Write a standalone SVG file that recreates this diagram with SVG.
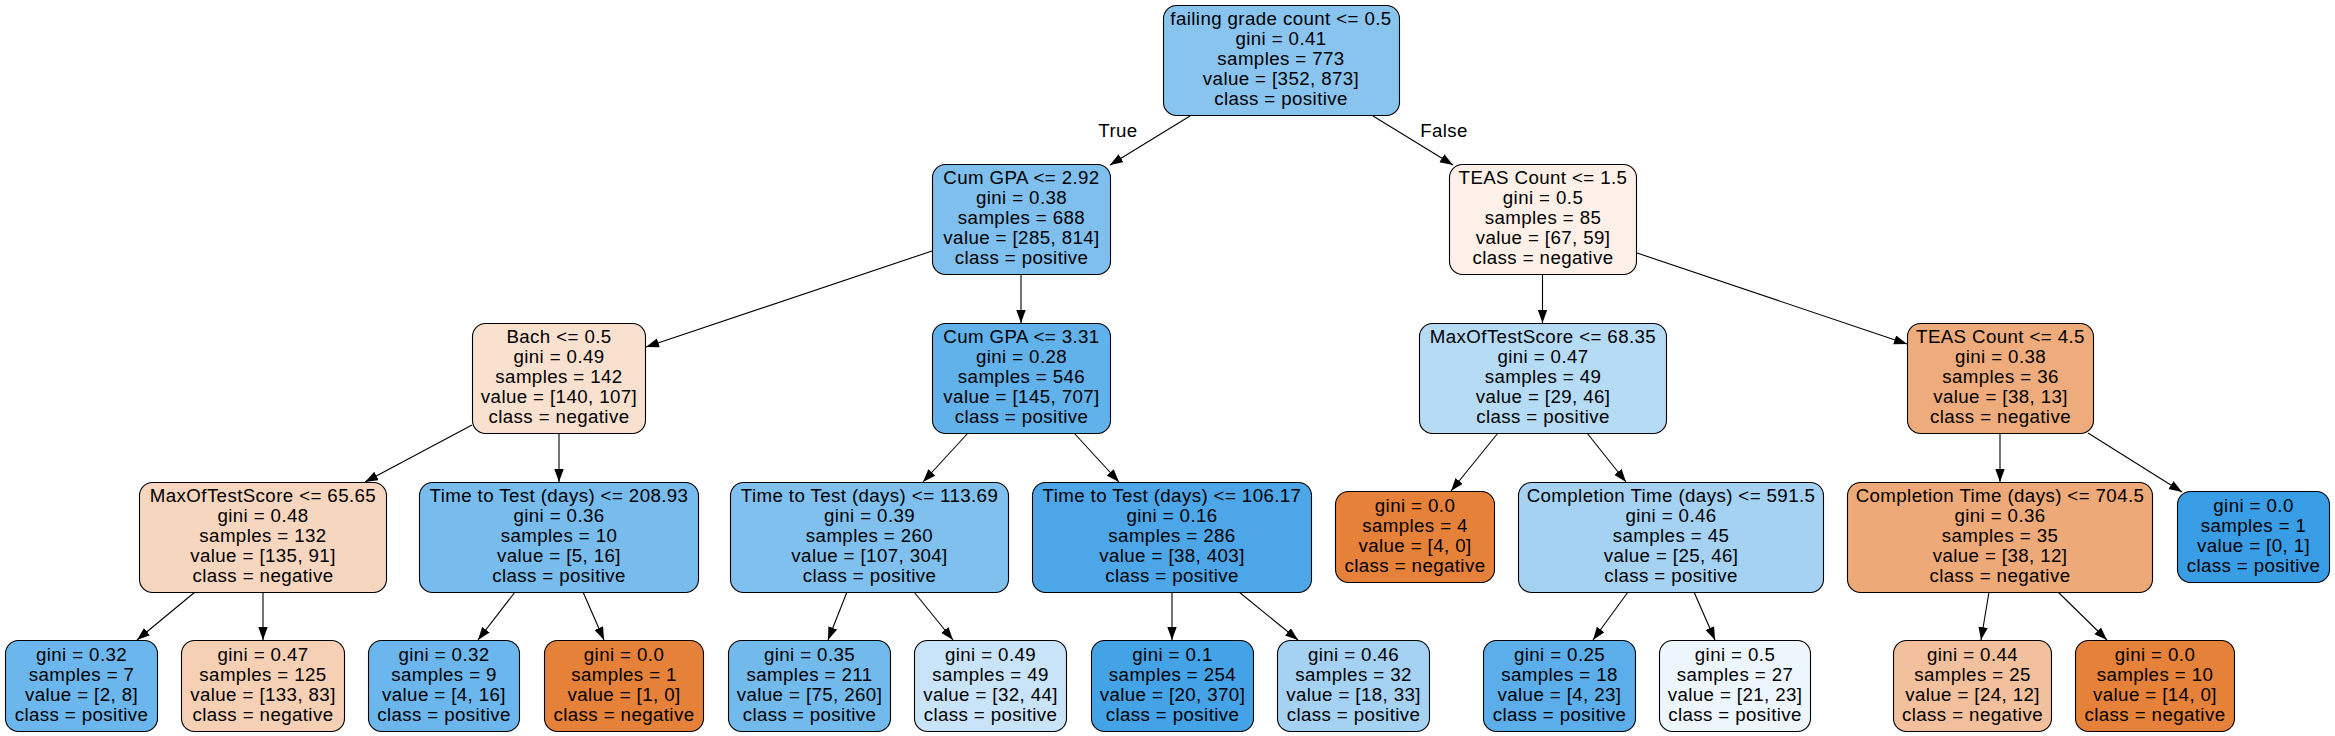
<svg xmlns="http://www.w3.org/2000/svg" width="2335" height="736" viewBox="0 0 2335 736">
<style>
.n{stroke:#000;stroke-width:1.1}
text{font-family:"Liberation Sans",Arial,Helvetica,sans-serif;font-size:18.7px;letter-spacing:0.4px;fill:#000;text-anchor:middle}
.e line{stroke:#000;stroke-width:1.1}
</style>
<defs>
<marker id="ah" markerUnits="userSpaceOnUse" markerWidth="14" markerHeight="10" refX="13" refY="4.7" orient="auto" viewBox="0 0 14 10">
<path d="M0,0 L13,4.7 L0,9.4 z" fill="#000"/>
</marker>
</defs>
<rect width="2335" height="736" fill="#fff"/>
<g class="e">
<line x1="1190" y1="116" x2="1110" y2="165" marker-end="url(#ah)"/>
<line x1="1373" y1="116" x2="1453" y2="165" marker-end="url(#ah)"/>
<line x1="932" y1="251" x2="646" y2="347" marker-end="url(#ah)"/>
<line x1="1021" y1="274" x2="1021" y2="323" marker-end="url(#ah)"/>
<line x1="1542.5" y1="274" x2="1542.5" y2="323" marker-end="url(#ah)"/>
<line x1="1637" y1="253" x2="1907" y2="344" marker-end="url(#ah)"/>
<line x1="472" y1="425" x2="365" y2="482" marker-end="url(#ah)"/>
<line x1="559" y1="433" x2="559" y2="482" marker-end="url(#ah)"/>
<line x1="968" y1="433" x2="923" y2="482" marker-end="url(#ah)"/>
<line x1="1074" y1="433" x2="1119" y2="482" marker-end="url(#ah)"/>
<line x1="1498" y1="433" x2="1451" y2="491" marker-end="url(#ah)"/>
<line x1="1587" y1="433" x2="1626" y2="482" marker-end="url(#ah)"/>
<line x1="2000" y1="433" x2="2000" y2="482" marker-end="url(#ah)"/>
<line x1="2088" y1="433" x2="2182" y2="492" marker-end="url(#ah)"/>
<line x1="195" y1="592" x2="137" y2="640" marker-end="url(#ah)"/>
<line x1="263" y1="592" x2="263" y2="640" marker-end="url(#ah)"/>
<line x1="515" y1="592" x2="478" y2="640" marker-end="url(#ah)"/>
<line x1="583" y1="592" x2="604" y2="640" marker-end="url(#ah)"/>
<line x1="847" y1="592" x2="828" y2="640" marker-end="url(#ah)"/>
<line x1="914" y1="592" x2="953" y2="640" marker-end="url(#ah)"/>
<line x1="1172" y1="592" x2="1172" y2="640" marker-end="url(#ah)"/>
<line x1="1239" y1="592" x2="1298" y2="640" marker-end="url(#ah)"/>
<line x1="1628" y1="592" x2="1593" y2="640" marker-end="url(#ah)"/>
<line x1="1694" y1="592" x2="1715" y2="640" marker-end="url(#ah)"/>
<line x1="1989" y1="592" x2="1981" y2="640" marker-end="url(#ah)"/>
<line x1="2058" y1="592" x2="2107" y2="640" marker-end="url(#ah)"/>
<text x="1118" y="137">True</text>
<text x="1444" y="137">False</text>
</g>

<g id="n0"><rect class="n" x="1163.5" y="5.5" width="236" height="110" rx="13" fill="#89c4ef"/>
<text x="1281" y="25">failing grade count &lt;= 0.5</text><text x="1281" y="45">gini = 0.41</text><text x="1281" y="65">samples = 773</text><text x="1281" y="85">value = [352, 873]</text><text x="1281" y="105">class = positive</text></g>

<g id="n1"><rect class="n" x="932.5" y="164.5" width="178" height="110" rx="13" fill="#7ebfee"/>
<text x="1021.5" y="184">Cum GPA &lt;= 2.92</text><text x="1021.5" y="204">gini = 0.38</text><text x="1021.5" y="224">samples = 688</text><text x="1021.5" y="244">value = [285, 814]</text><text x="1021.5" y="264">class = positive</text></g>

<g id="n2"><rect class="n" x="1449.5" y="164.5" width="187" height="110" rx="13" fill="#fcf0e8"/>
<text x="1543" y="184">TEAS Count &lt;= 1.5</text><text x="1543" y="204">gini = 0.5</text><text x="1543" y="224">samples = 85</text><text x="1543" y="244">value = [67, 59]</text><text x="1543" y="264">class = negative</text></g>

<g id="n3"><rect class="n" x="472.5" y="323.5" width="173" height="110" rx="13" fill="#f9e1d0"/>
<text x="559" y="343">Bach &lt;= 0.5</text><text x="559" y="363">gini = 0.49</text><text x="559" y="383">samples = 142</text><text x="559" y="403">value = [140, 107]</text><text x="559" y="423">class = negative</text></g>

<g id="n4"><rect class="n" x="932.5" y="323.5" width="178" height="110" rx="13" fill="#61b1ea"/>
<text x="1021.5" y="343">Cum GPA &lt;= 3.31</text><text x="1021.5" y="363">gini = 0.28</text><text x="1021.5" y="383">samples = 546</text><text x="1021.5" y="403">value = [145, 707]</text><text x="1021.5" y="423">class = positive</text></g>

<g id="n5"><rect class="n" x="1419.5" y="323.5" width="247" height="110" rx="13" fill="#b6dbf5"/>
<text x="1543" y="343">MaxOfTestScore &lt;= 68.35</text><text x="1543" y="363">gini = 0.47</text><text x="1543" y="383">samples = 49</text><text x="1543" y="403">value = [29, 46]</text><text x="1543" y="423">class = positive</text></g>

<g id="n6"><rect class="n" x="1907.5" y="323.5" width="186" height="110" rx="13" fill="#eeac7d"/>
<text x="2000.5" y="343">TEAS Count &lt;= 4.5</text><text x="2000.5" y="363">gini = 0.38</text><text x="2000.5" y="383">samples = 36</text><text x="2000.5" y="403">value = [38, 13]</text><text x="2000.5" y="423">class = negative</text></g>

<g id="n7"><rect class="n" x="139.5" y="482.5" width="247" height="110" rx="13" fill="#f6d6bf"/>
<text x="263" y="502">MaxOfTestScore &lt;= 65.65</text><text x="263" y="522">gini = 0.48</text><text x="263" y="542">samples = 132</text><text x="263" y="562">value = [135, 91]</text><text x="263" y="582">class = negative</text></g>

<g id="n8"><rect class="n" x="419.5" y="482.5" width="279" height="110" rx="13" fill="#77bced"/>
<text x="559" y="502">Time to Test (days) &lt;= 208.93</text><text x="559" y="522">gini = 0.36</text><text x="559" y="542">samples = 10</text><text x="559" y="562">value = [5, 16]</text><text x="559" y="582">class = positive</text></g>

<g id="n9"><rect class="n" x="730.5" y="482.5" width="278" height="110" rx="13" fill="#7fc0ee"/>
<text x="869.5" y="502">Time to Test (days) &lt;= 113.69</text><text x="869.5" y="522">gini = 0.39</text><text x="869.5" y="542">samples = 260</text><text x="869.5" y="562">value = [107, 304]</text><text x="869.5" y="582">class = positive</text></g>

<g id="n10"><rect class="n" x="1032.5" y="482.5" width="279" height="110" rx="13" fill="#4ca6e7"/>
<text x="1172" y="502">Time to Test (days) &lt;= 106.17</text><text x="1172" y="522">gini = 0.16</text><text x="1172" y="542">samples = 286</text><text x="1172" y="562">value = [38, 403]</text><text x="1172" y="582">class = positive</text></g>

<g id="n11"><rect class="n" x="1335.5" y="491.5" width="159" height="91" rx="13" fill="#e58139"/>
<text x="1415" y="512">gini = 0.0</text><text x="1415" y="532">samples = 4</text><text x="1415" y="552">value = [4, 0]</text><text x="1415" y="572">class = negative</text></g>

<g id="n12"><rect class="n" x="1518.5" y="482.5" width="305" height="110" rx="13" fill="#a5d2f3"/>
<text x="1671" y="502">Completion Time (days) &lt;= 591.5</text><text x="1671" y="522">gini = 0.46</text><text x="1671" y="542">samples = 45</text><text x="1671" y="562">value = [25, 46]</text><text x="1671" y="582">class = positive</text></g>

<g id="n13"><rect class="n" x="1847.5" y="482.5" width="305" height="110" rx="13" fill="#eda978"/>
<text x="2000" y="502">Completion Time (days) &lt;= 704.5</text><text x="2000" y="522">gini = 0.36</text><text x="2000" y="542">samples = 35</text><text x="2000" y="562">value = [38, 12]</text><text x="2000" y="582">class = negative</text></g>

<g id="n14"><rect class="n" x="2177.5" y="491.5" width="152" height="91" rx="13" fill="#399de5"/>
<text x="2253.5" y="512">gini = 0.0</text><text x="2253.5" y="532">samples = 1</text><text x="2253.5" y="552">value = [0, 1]</text><text x="2253.5" y="572">class = positive</text></g>

<g id="n15"><rect class="n" x="5.5" y="640.5" width="152" height="91" rx="13" fill="#6bb6ec"/>
<text x="81.5" y="661">gini = 0.32</text><text x="81.5" y="681">samples = 7</text><text x="81.5" y="701">value = [2, 8]</text><text x="81.5" y="721">class = positive</text></g>

<g id="n16"><rect class="n" x="181.5" y="640.5" width="163" height="91" rx="13" fill="#f5d0b5"/>
<text x="263" y="661">gini = 0.47</text><text x="263" y="681">samples = 125</text><text x="263" y="701">value = [133, 83]</text><text x="263" y="721">class = negative</text></g>

<g id="n17"><rect class="n" x="368.5" y="640.5" width="151" height="91" rx="13" fill="#6bb6ec"/>
<text x="444" y="661">gini = 0.32</text><text x="444" y="681">samples = 9</text><text x="444" y="701">value = [4, 16]</text><text x="444" y="721">class = positive</text></g>

<g id="n18"><rect class="n" x="544.5" y="640.5" width="159" height="91" rx="13" fill="#e58139"/>
<text x="624" y="661">gini = 0.0</text><text x="624" y="681">samples = 1</text><text x="624" y="701">value = [1, 0]</text><text x="624" y="721">class = negative</text></g>

<g id="n19"><rect class="n" x="728.5" y="640.5" width="162" height="91" rx="13" fill="#72b9ec"/>
<text x="809.5" y="661">gini = 0.35</text><text x="809.5" y="681">samples = 211</text><text x="809.5" y="701">value = [75, 260]</text><text x="809.5" y="721">class = positive</text></g>

<g id="n20"><rect class="n" x="914.5" y="640.5" width="152" height="91" rx="13" fill="#c9e4f8"/>
<text x="990.5" y="661">gini = 0.49</text><text x="990.5" y="681">samples = 49</text><text x="990.5" y="701">value = [32, 44]</text><text x="990.5" y="721">class = positive</text></g>

<g id="n21"><rect class="n" x="1091.5" y="640.5" width="162" height="91" rx="13" fill="#44a2e6"/>
<text x="1172.5" y="661">gini = 0.1</text><text x="1172.5" y="681">samples = 254</text><text x="1172.5" y="701">value = [20, 370]</text><text x="1172.5" y="721">class = positive</text></g>

<g id="n22"><rect class="n" x="1277.5" y="640.5" width="152" height="91" rx="13" fill="#a5d2f3"/>
<text x="1353.5" y="661">gini = 0.46</text><text x="1353.5" y="681">samples = 32</text><text x="1353.5" y="701">value = [18, 33]</text><text x="1353.5" y="721">class = positive</text></g>

<g id="n23"><rect class="n" x="1483.5" y="640.5" width="152" height="91" rx="13" fill="#5baeea"/>
<text x="1559.5" y="661">gini = 0.25</text><text x="1559.5" y="681">samples = 18</text><text x="1559.5" y="701">value = [4, 23]</text><text x="1559.5" y="721">class = positive</text></g>

<g id="n24"><rect class="n" x="1659.5" y="640.5" width="151" height="91" rx="13" fill="#eef6fd"/>
<text x="1735" y="661">gini = 0.5</text><text x="1735" y="681">samples = 27</text><text x="1735" y="701">value = [21, 23]</text><text x="1735" y="721">class = positive</text></g>

<g id="n25"><rect class="n" x="1893.5" y="640.5" width="158" height="91" rx="13" fill="#f2c09c"/>
<text x="1972.5" y="661">gini = 0.44</text><text x="1972.5" y="681">samples = 25</text><text x="1972.5" y="701">value = [24, 12]</text><text x="1972.5" y="721">class = negative</text></g>

<g id="n26"><rect class="n" x="2075.5" y="640.5" width="159" height="91" rx="13" fill="#e58139"/>
<text x="2155" y="661">gini = 0.0</text><text x="2155" y="681">samples = 10</text><text x="2155" y="701">value = [14, 0]</text><text x="2155" y="721">class = negative</text></g>
</svg>
